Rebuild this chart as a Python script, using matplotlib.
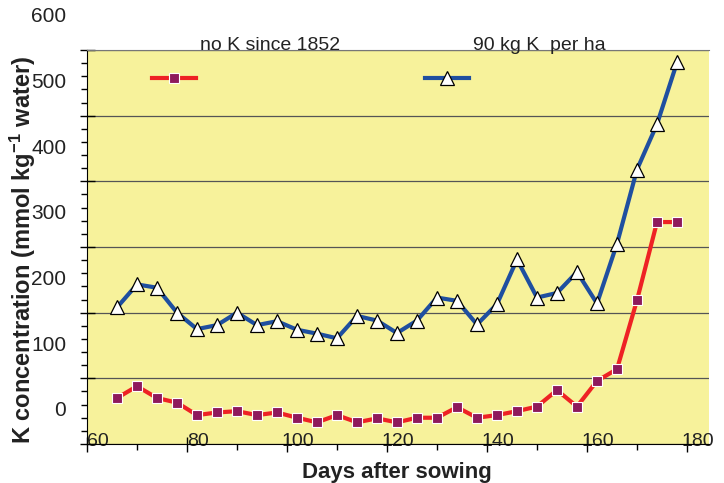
import matplotlib.pyplot as plt
from matplotlib.legend import Legend
from matplotlib.transforms import ScaledTranslation

plt.rcParams['font.family'] = ['Liberation Sans', 'DejaVu Sans']
plt.rcParams['mathtext.default'] = 'regular'

# sampling days and soil-solution K for the two treatments
days = [66, 70, 74, 78, 82, 86, 90, 94, 98, 102, 106, 110, 114, 118, 122,
        126, 130, 134, 138, 142, 146, 150, 154, 158, 162, 166, 170, 174, 178]
no_k = [70, 88, 70, 63, 44, 48, 50, 44, 48, 40, 33, 44, 33, 39, 33,
        40, 40, 56, 40, 44, 50, 57, 82, 57, 96, 114, 219, 338, 338]
plus_k = [208, 243, 238, 200, 175, 181, 200, 181, 187, 174, 168, 161, 195, 188, 169,
          188, 223, 218, 182, 213, 281, 223, 230, 262, 214, 305, 418, 487, 581]

x_ticks = [60, 80, 100, 120, 140, 160, 180]
y_ticks = [0, 100, 200, 300, 400, 500, 600]
labels = ['no K since 1852', '90 kg K  per ha']

fig = plt.figure(figsize=(7.24, 4.83), dpi=100)
ax = fig.add_axes([87 / 724, 1 - 444 / 483, 622 / 724, 394 / 483])
ax.set_facecolor('#F7F29B')

blue, = ax.plot(days, plus_k, color='#1F4FA0', lw=3, marker='^', ms=9.5,
                mfc='white', mec='black', mew=0.9, zorder=3)
red, = ax.plot(days, no_k, color='#EE2224', lw=3, marker='s', ms=7.5,
               mfc='#8E1A5C', mec='white', mew=0.8, zorder=3)

ax.set_xlim(60, 184.4)
ax.set_ylim(0, 600)
ax.set_xticks(x_ticks)
ax.set_xticks(range(70, 181, 20), minor=True)
ax.set_yticks(y_ticks)
ax.set_yticks(range(0, 601, 20), minor=True)
ax.grid(axis='y', which='major', color='#555555', lw=0.9)
ax.set_axisbelow(True)

ax.spines['right'].set_visible(False)
ax.spines['top'].set_color('#777777')

ax.tick_params(which='major', direction='inout', length=10.8, width=1)
ax.tick_params(which='minor', direction='out', length=4.5, width=1)
ax.tick_params(axis='y', which='major', labelsize=15, pad=9.5, labelcolor='#222222')
ax.tick_params(axis='x', which='major', labelsize=14, pad=2, labelcolor='#222222')

# tick labels sit off their ticks in the original
for t in ax.get_yticklabels():
    t.set_transform(t.get_transform() + ScaledTranslation(0, 0.35, fig.dpi_scale_trans))
for t in ax.get_xticklabels():
    t.set_transform(t.get_transform() + ScaledTranslation(0.11, 0.21, fig.dpi_scale_trans))

ax.set_ylabel('K concentration (mmol kg$^{-1}$ water)', fontsize=17,
              fontweight='bold', color='#222222')
ax.yaxis.set_label_coords(-0.078, 0.492)
ax.set_xlabel('Days after sowing', fontsize=16, fontweight='bold', color='#222222')
ax.xaxis.set_label_coords(0.498, -0.045)

# legend: one entry each, text raised above the handle
for handle, label, xa in [(red, labels[0], 0.1045), (blue, labels[1], 0.5434)]:
    leg = Legend(ax, [handle], [label], loc='center left',
                 bbox_to_anchor=(xa, 0.924), frameon=False, borderpad=0,
                 borderaxespad=0, handlelength=2.26, handletextpad=0.2,
                 fontsize=14, labelcolor='#222222')
    for t in leg.get_texts():
        t.set_transform(t.get_transform() + ScaledTranslation(0, 0.35, fig.dpi_scale_trans))
    ax.add_artist(leg)

fig.savefig('out.png', dpi=100)
